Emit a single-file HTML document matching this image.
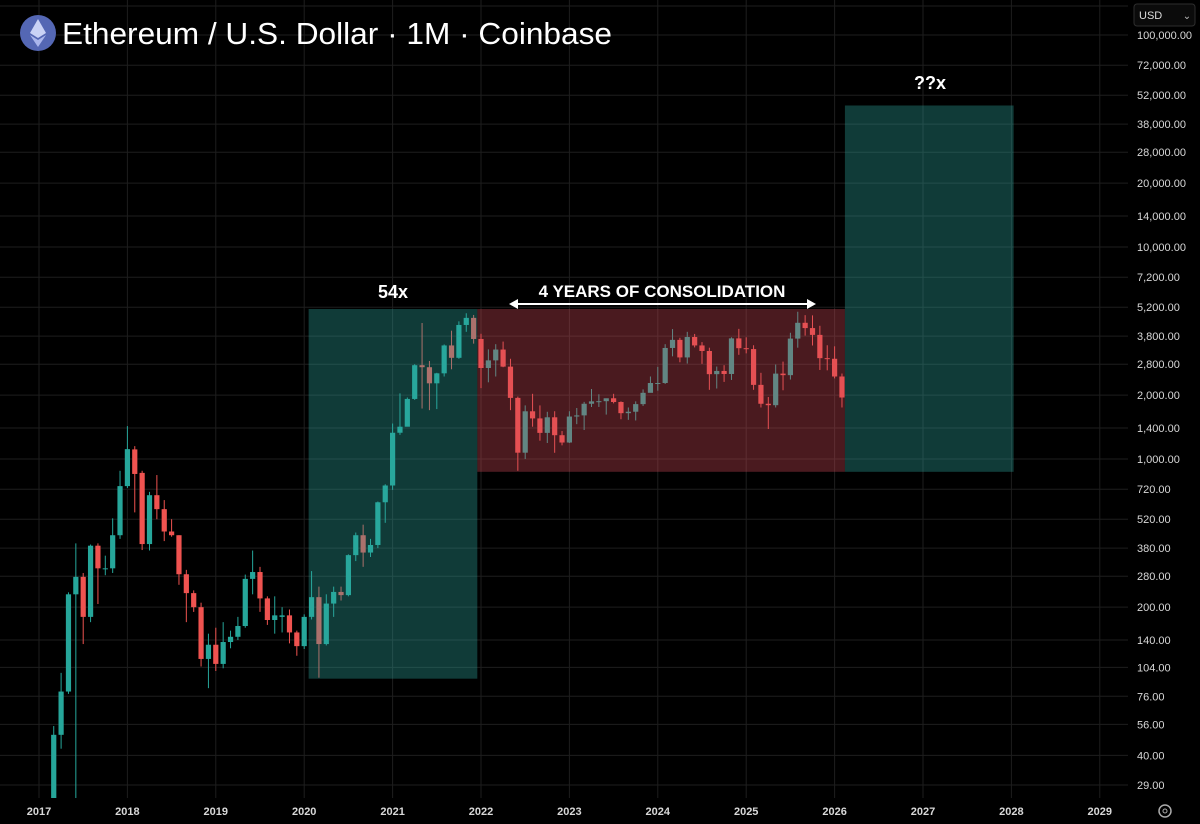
<!DOCTYPE html>
<html><head><meta charset="utf-8"><style>
html,body{margin:0;padding:0;background:#000;width:1200px;height:824px;overflow:hidden;}
body{position:relative;font-family:"Liberation Sans",sans-serif;}
svg{position:absolute;left:0;top:0;display:block;}
</style></head><body>
<svg id="chart" width="1200" height="824"></svg>
<script>
const months=[];for(let i=2;i<=109;i++)months.push(i); // months since Jan 2017
const opens=[17,50,80,230,278,180,390,305,305,437,745,1110,860,397,675,580,455,437,286,233,200,114,133,108,137,145,163,272,293,220,174,180,183,152,131,180,223,134,208,236,228,352,437,362,393,625,750,1330,1420,1920,2770,2710,2275,2536,3433,3001,4288,4631,3683,2687,2919,3283,2727,1942,1071,1679,1554,1328,1573,1295,1196,1586,1606,1822,1870,1874,1934,1857,1645,1671,1815,2052,2283,2283,3340,3647,3014,3762,3433,3232,2513,2602,2518,3706,3332,3300,2237,1822,1794,2528,2486,3698,4390,4145,3850,2990,2970,2450];
const highs=[55,98,235,400,290,395,400,350,525,880,1430,1150,880,700,840,640,520,437,300,240,210,150,160,170,155,180,285,370,310,225,225,200,195,155,185,296,250,230,250,250,355,450,490,420,630,760,1470,2040,1950,2800,4380,2900,2550,3470,4030,4460,4870,4780,3900,3290,3480,3580,2970,1970,1790,2030,1790,1670,1680,1355,1680,1740,1860,2140,2020,1930,2030,1870,1750,1870,2130,2450,2720,3480,4100,3730,3980,3890,3560,3350,2730,2770,3750,4110,3750,3440,2550,1960,2790,2880,3940,4950,4770,4760,4250,3440,3400,2530];
const lows=[15,43,78,10,134,170,207,283,290,420,730,560,372,370,520,410,430,255,170,190,105,83,100,103,128,140,160,230,190,165,150,152,135,118,127,175,93,132,180,215,225,330,310,345,380,500,715,1300,1430,1900,1730,1700,1720,2450,2650,2970,3980,3500,2160,2300,2450,2710,1700,880,1000,1420,1220,1190,1070,1160,1190,1460,1370,1760,1760,1620,1830,1540,1530,1520,1780,2060,2100,2260,3050,2860,2820,3360,2810,2120,2150,2310,2360,3100,3150,2120,1750,1385,1750,2110,2370,3350,3820,3430,2630,2620,2400,1750];
const closes=[50,80,230,278,180,390,305,305,437,745,1113,850,397,675,580,455,437,286,233,200,114,133,108,137,145,163,272,293,220,174,183,183,152,131,180,223,134,208,236,228,352,437,362,393,625,750,1330,1420,1920,2770,2710,2275,2536,3433,3001,4288,4631,3683,2687,2919,3283,2727,1942,1071,1679,1554,1328,1573,1295,1196,1586,1606,1822,1870,1874,1934,1857,1645,1671,1815,2052,2283,2283,3340,3647,3014,3762,3433,3232,2513,2602,2518,3706,3332,3300,2237,1822,1794,2528,2486,3698,4390,4145,3850,2990,2970,2450,1950];
const priceTicks=[100000,72000,52000,38000,28000,20000,14000,10000,7200,5200,3800,2800,2000,1400,1000,720,520,380,280,200,140,104,76,56,40,29];
const yearTicks=[2017,2018,2019,2020,2021,2022,2023,2024,2025,2026,2027,2028,2029];
// boxes: [startMonth, endMonth, topPrice, bottomPrice]
const boxTeal1=[36.6,59.5,5100,92];
const boxRed=[59.5,109.4,5100,870];
const boxTeal2=[109.4,132.3,46500,870];

const NS="http://www.w3.org/2000/svg";
const svg=document.getElementById('chart');
function el(t,a,p){const e=document.createElementNS(NS,t);for(const k in a)e.setAttribute(k,a[k]);(p||svg).appendChild(e);return e;}
const X0=39,PX_M=88.4/12;
function xm(m){return X0+m*PX_M;}
function xy(y){return X0+(y-2017)*88.4;}
function yv(v){return 671-212*Math.log10(v/100);}
const PLOT_R=1128,PLOT_B=798;

const grid=el('g',{});


priceTicks.forEach(v=>{el('line',{x1:0,x2:PLOT_R,y1:yv(v),y2:yv(v),stroke:'#1e1e1e','stroke-width':1},grid);});
el('line',{x1:0,x2:PLOT_R,y1:6,y2:6,stroke:'#1e1e1e'},grid);
yearTicks.forEach(y=>{el('line',{x1:xy(y),x2:xy(y),y1:0,y2:PLOT_B,stroke:'#1e1e1e'},grid);});

const defs=el('defs',{});
const cp=el('clipPath',{id:'plotclip'},defs);
el('rect',{x:0,y:0,width:PLOT_R,height:PLOT_B},cp);
const plot=el('g',{'clip-path':'url(#plotclip)'});



for(let i=0;i<months.length;i++){
  const up=closes[i]>=opens[i];
  const col=up?'#26a69a':'#ef5350';
  const cx=xm(months[i]);
  const g=el('g',{},plot);
  
  
  el('line',{x1:cx,x2:cx,y1:yv(highs[i]),y2:yv(lows[i]),stroke:col,'stroke-width':1},g);
  const t=Math.min(yv(opens[i]),yv(closes[i])),b=Math.max(yv(opens[i]),yv(closes[i]));
  el('rect',{x:cx-2.6,y:t,width:5.2,height:Math.max(1,b-t),fill:col},g);
}
function box(bx,fill,name){
  const r=el('rect',{x:xm(bx[0]),y:yv(bx[2]),width:xm(bx[1])-xm(bx[0]),height:yv(bx[3])-yv(bx[2]),fill:fill},plot);
  
  
}
box(boxTeal1,'rgba(45,170,160,0.35)','rally-box-54x');
box(boxRed,'rgba(211,74,88,0.35)','consolidation-box');
box(boxTeal2,'rgba(45,170,160,0.35)','projection-box');

function txt(x,y,s,name,size,anchor,weight,fill){const t=el('text',{x:x,y:y,'font-size':size,'text-anchor':anchor||'middle','font-weight':weight||'bold',fill:fill||'#fff','font-family':'"Liberation Sans",sans-serif'});t.textContent=s;return t;}
txt(393,298,'54x','label-54x',18);
txt(662,297,'4 YEARS OF CONSOLIDATION','label-consolidation',17);
txt(930,89,'??x','label-unknown-multiple',18);
const arr=el('g',{});


el('line',{x1:514,x2:811,y1:304,y2:304,stroke:'#fff','stroke-width':2},arr);
el('polygon',{points:'509,304 518,299 518,309',fill:'#fff'},arr);
el('polygon',{points:'816,304 807,299 807,309',fill:'#fff'},arr);

priceTicks.forEach(v=>{txt(1137,yv(v)+4,v.toLocaleString('en-US',{minimumFractionDigits:2}),'price-tick',11,'start','normal','#d8d8d8');});
yearTicks.forEach(y=>{txt(xy(y),815,String(y),'year-tick',11,'middle','bold','#d8d8d8');});

const logo=el('g',{});


el('circle',{cx:38,cy:33,r:18,fill:'#5467b4'},logo);
el('polygon',{points:'38,19 46,33 38,38 30,33',fill:'#c9d2f5'},logo);
el('polygon',{points:'38,40 46,35 38,47 30,35',fill:'#aab6ec'},logo);
const title=txt(62,44,'Ethereum / U.S. Dollar · 1M · Coinbase','chart-title',31,'start','normal','#fff');
title.setAttribute('textLength','550');
title.setAttribute('lengthAdjust','spacingAndGlyphs');

const ub=el('g',{});


el('rect',{x:1134,y:4,width:61,height:22,rx:3,fill:'#0b0b0b',stroke:'#2e2e2e'},ub);
txt(1139,19,'USD','currency-label',11,'start','normal','#ddd');
txt(1187,19,'⌄','currency-caret',10,'middle','normal','#bbb');
const gear=el('g',{});


el('circle',{cx:1165,cy:811,r:6,fill:'none',stroke:'#aaa','stroke-width':1.5},gear);
el('circle',{cx:1165,cy:811,r:2,fill:'none',stroke:'#aaa','stroke-width':1},gear);
</script>
</body></html>
